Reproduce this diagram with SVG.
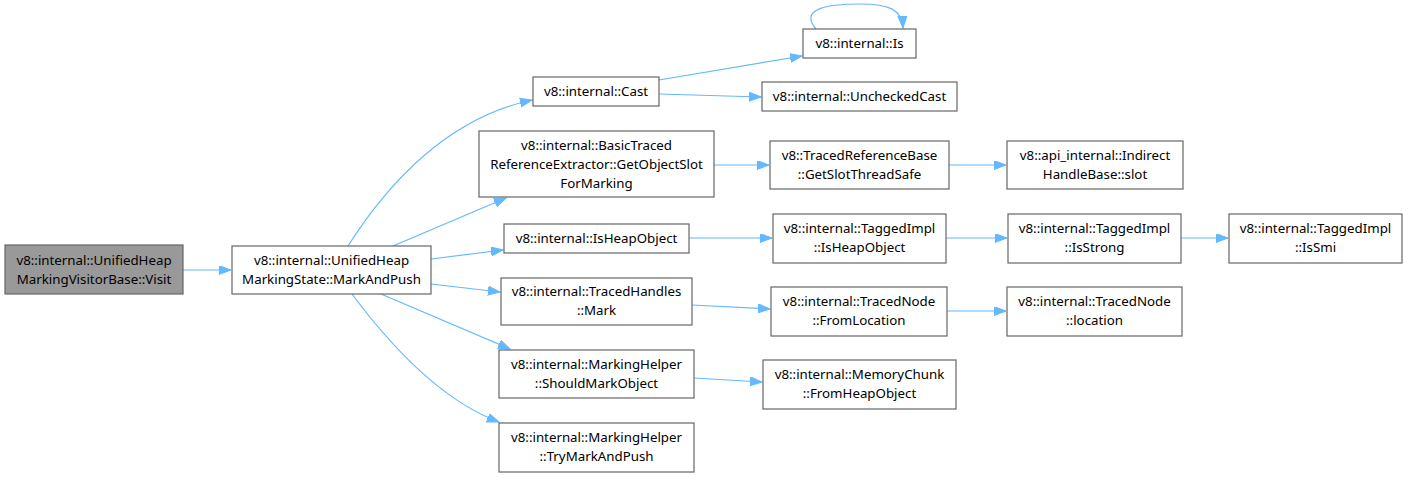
<svg xmlns="http://www.w3.org/2000/svg" width="1408" height="478" viewBox="0 0 1408 478">
<style>
.n rect{fill:#fff;stroke:#666;stroke-width:1.2}
.n.root rect{fill:#999}
text{font-family:"Noto Sans","Open Sans",sans-serif;font-size:13.3px;fill:#000;text-anchor:middle}
.e path{fill:none;stroke:#63b8ff;stroke-width:1.2}
</style>
<defs>
<marker id="ah" markerUnits="userSpaceOnUse" markerWidth="13" markerHeight="10" refX="12" refY="4.5" orient="auto">
<path d="M0,0 L12,4.5 L0,9 Z" fill="#63b8ff" stroke="#63b8ff" stroke-width="1"/>
</marker>
</defs>
<rect width="1408" height="478" fill="#fff"/>
<g id="edges" class="e">
<path d="M183,270 L231,270" marker-end="url(#ah)"/>
<path d="M348,246 C380,196 440,120 532,100" marker-end="url(#ah)"/>
<path d="M393,246 L506,198" marker-end="url(#ah)"/>
<path d="M431,259 L503,250" marker-end="url(#ah)"/>
<path d="M431,284 L500,292" marker-end="url(#ah)"/>
<path d="M381,294 L510,349" marker-end="url(#ah)"/>
<path d="M352,294 C390,345 440,400 499,422" marker-end="url(#ah)"/>
<path d="M659,80 L802,56" marker-end="url(#ah)"/>
<path d="M659,94 L761,97" marker-end="url(#ah)"/>
<path d="M816,29 C798,8 830,4 860,4 C888,4 902,9 903,28" marker-end="url(#ah)"/>
<path d="M714,165 L769,165" marker-end="url(#ah)"/>
<path d="M949,165 L1006,165" marker-end="url(#ah)"/>
<path d="M689,238 L772,238" marker-end="url(#ah)"/>
<path d="M946,238 L1007,238" marker-end="url(#ah)"/>
<path d="M1181,238 L1228,238" marker-end="url(#ah)"/>
<path d="M692,305 L770,309" marker-end="url(#ah)"/>
<path d="M947,311 L1006,311" marker-end="url(#ah)"/>
<path d="M694,378 L762,382" marker-end="url(#ah)"/>
</g>
<g id="visit" class="n root"><rect x="5" y="245" width="178" height="49"/><text x="94" y="265">v8::internal::UnifiedHeap</text><text x="94" y="284">MarkingVisitorBase::Visit</text></g>
<g id="markandpush" class="n"><rect x="232" y="246" width="199" height="48"/><text x="331.5" y="265">v8::internal::UnifiedHeap</text><text x="331.5" y="284">MarkingState::MarkAndPush</text></g>
<g id="cast" class="n"><rect x="533" y="77" width="126" height="29"/><text x="596" y="96">v8::internal::Cast</text></g>
<g id="is" class="n"><rect x="803" y="29" width="113" height="29"/><text x="859.5" y="48">v8::internal::Is</text></g>
<g id="uncheckedcast" class="n"><rect x="762" y="82" width="195" height="29"/><text x="859.5" y="101">v8::internal::UncheckedCast</text></g>
<g id="basictraced" class="n"><rect x="479" y="131" width="235" height="66"/><text x="596.5" y="150">v8::internal::BasicTraced</text><text x="596.5" y="169">ReferenceExtractor::GetObjectSlot</text><text x="596.5" y="188">ForMarking</text></g>
<g id="tracedrefbase" class="n"><rect x="770" y="141" width="179" height="48"/><text x="859.5" y="160">v8::TracedReferenceBase</text><text x="859.5" y="179">::GetSlotThreadSafe</text></g>
<g id="indirect" class="n"><rect x="1007" y="141" width="176" height="48"/><text x="1095" y="160">v8::api_internal::Indirect</text><text x="1095" y="179">HandleBase::slot</text></g>
<g id="isheapobject" class="n"><rect x="504" y="224" width="185" height="29"/><text x="596.5" y="243">v8::internal::IsHeapObject</text></g>
<g id="tagged_isheap" class="n"><rect x="773" y="214" width="173" height="49"/><text x="859.5" y="233">v8::internal::TaggedImpl</text><text x="859.5" y="252">::IsHeapObject</text></g>
<g id="tagged_isstrong" class="n"><rect x="1008" y="214" width="173" height="49"/><text x="1094.5" y="233">v8::internal::TaggedImpl</text><text x="1094.5" y="252">::IsStrong</text></g>
<g id="tagged_issmi" class="n"><rect x="1229" y="214" width="173" height="49"/><text x="1315.5" y="233">v8::internal::TaggedImpl</text><text x="1315.5" y="252">::IsSmi</text></g>
<g id="tracedhandles" class="n"><rect x="501" y="278" width="191" height="47"/><text x="596.5" y="296">v8::internal::TracedHandles</text><text x="596.5" y="315">::Mark</text></g>
<g id="fromlocation" class="n"><rect x="771" y="287" width="176" height="49"/><text x="859" y="306">v8::internal::TracedNode</text><text x="859" y="325">::FromLocation</text></g>
<g id="location" class="n"><rect x="1007" y="287" width="175" height="49"/><text x="1094.5" y="306">v8::internal::TracedNode</text><text x="1094.5" y="325">::location</text></g>
<g id="shouldmark" class="n"><rect x="499" y="350" width="195" height="48"/><text x="596.5" y="369">v8::internal::MarkingHelper</text><text x="596.5" y="388">::ShouldMarkObject</text></g>
<g id="memorychunk" class="n"><rect x="763" y="360" width="193" height="49"/><text x="859.5" y="379">v8::internal::MemoryChunk</text><text x="859.5" y="398">::FromHeapObject</text></g>
<g id="trymark" class="n"><rect x="499" y="423" width="195" height="49"/><text x="596.5" y="442">v8::internal::MarkingHelper</text><text x="596.5" y="461">::TryMarkAndPush</text></g>
</svg>
